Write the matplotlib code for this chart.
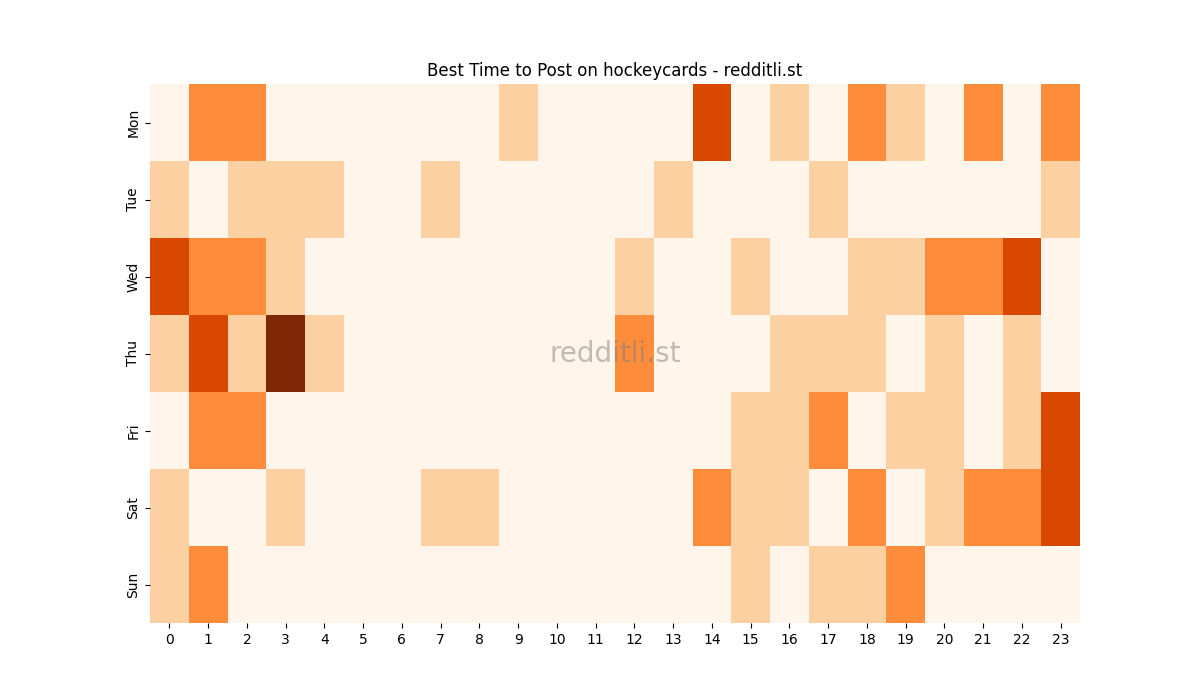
import matplotlib
matplotlib.use("Agg")
import matplotlib.pyplot as plt
import numpy as np
import seaborn as sns

days = ["Mon", "Tue", "Wed", "Thu", "Fri", "Sat", "Sun"]
hours = list(range(24))

mon = [0, 2, 2, 0, 0, 0, 0, 0, 0, 1, 0, 0, 0, 0, 3, 0, 1, 0, 2, 1, 0, 2, 0, 2]
tue = [1, 0, 1, 1, 1, 0, 0, 1, 0, 0, 0, 0, 0, 1, 0, 0, 0, 1, 0, 0, 0, 0, 0, 1]
wed = [3, 2, 2, 1, 0, 0, 0, 0, 0, 0, 0, 0, 1, 0, 0, 1, 0, 0, 1, 1, 2, 2, 3, 0]
thu = [1, 3, 1, 4, 1, 0, 0, 0, 0, 0, 0, 0, 2, 0, 0, 0, 1, 1, 1, 0, 1, 0, 1, 0]
fri = [0, 2, 2, 0, 0, 0, 0, 0, 0, 0, 0, 0, 0, 0, 0, 1, 1, 2, 0, 1, 1, 0, 1, 3]
sat = [1, 0, 0, 1, 0, 0, 0, 1, 1, 0, 0, 0, 0, 0, 2, 1, 1, 0, 2, 0, 1, 2, 2, 3]
sun = [1, 2, 0, 0, 0, 0, 0, 0, 0, 0, 0, 0, 0, 0, 0, 1, 0, 1, 1, 2, 0, 0, 0, 0]

data = np.array([mon, tue, wed, thu, fri, sat, sun])

fig, ax = plt.subplots(figsize=(12, 7), dpi=100)
sns.heatmap(data, cmap="Oranges", vmin=0, vmax=4, cbar=False,
            xticklabels=hours, yticklabels=days, ax=ax)
ax.set_title("Best Time to Post on hockeycards - redditli.st")
ax.text(0.5, 0.5, "redditli.st", transform=ax.transAxes, ha="center",
        va="center", fontsize=20, color="gray", alpha=0.5)
plt.savefig("out.png")
